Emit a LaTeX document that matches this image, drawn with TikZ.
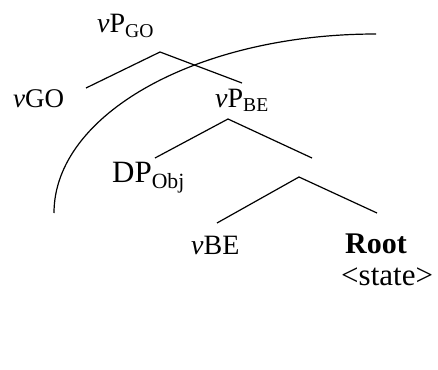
\documentclass[tikz,border=0pt]{standalone}
\usepackage{fontspec}
\setmainfont{Liberation Serif}
\begin{document}
\begin{tikzpicture}
		[x=1pt,y=-1pt,
		lab/.style={inner sep=0pt,anchor=base west,
			font=\fontsize{28}{32}\selectfont},
		biglab/.style={lab,font=\fontsize{31}{36}\selectfont},
		branch/.style={line width=1.2pt}
	]
		\useasboundingbox (0,0) rectangle (438,369);
		% labels
		\node[lab] (vpgo) at (97,33) {\textit{v}P\textsubscript{GO}};
		\node[lab,font=\fontsize{27}{30}\selectfont] (vgo) at (13,107) {\textit{v}GO};
		\node[lab] (vpbe) at (215,107) {\textit{v}P\textsubscript{BE}};
		\node[biglab] (dpobj) at (112,182) {DP\textsubscript{Obj}};
		\node[lab] (vbe) at (191,254) {\textit{v}BE};
		\node[lab,font=\fontsize{30}{34}\selectfont\bfseries] (root) at (345,253) {Root};
		\node[lab,font=\fontsize{31}{34}\selectfont] (state) at (341,285) {<state>};
		% joints of the branches
		\coordinate (goTop) at (160,52);
		\coordinate (goL) at (86,88);
		\coordinate (goR) at (242,83);
		\coordinate (beTop) at (228,119);
		\coordinate (beL) at (155,158);
		\coordinate (beR) at (312,158);
		\coordinate (lowTop) at (299,177);
		\coordinate (lowL) at (217,223);
		\coordinate (lowR) at (377,213);
		\draw[branch] (goL) -- (goTop) -- (goR);
		\draw[branch] (beL) -- (beTop) -- (beR);
		\draw[branch] (lowL) -- (lowTop) -- (lowR);
		% the arc
		\coordinate (arcA) at (54,213);
		\coordinate (arcB) at (376,34);
		\draw[branch] (arcA) .. controls (54,114) and (198,34) .. (arcB);
	\end{tikzpicture}
\end{document}
